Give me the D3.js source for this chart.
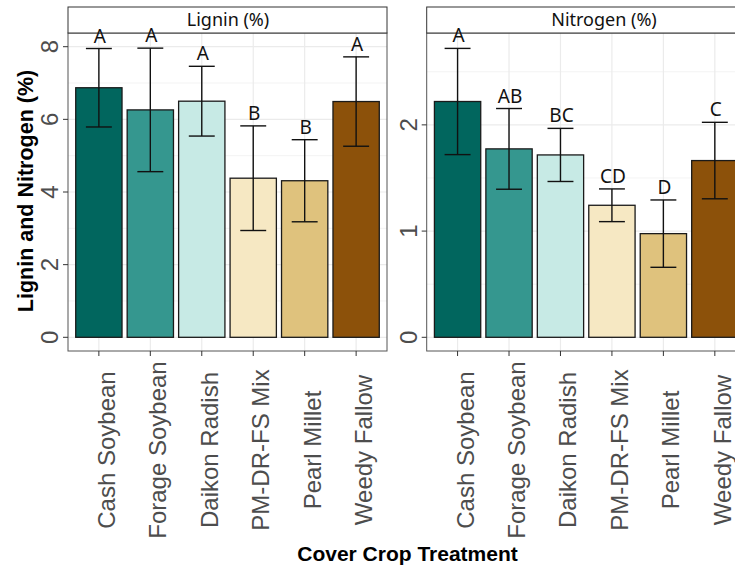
<!DOCTYPE html>
<html>
<head>
<meta charset="utf-8">
<script src="https://cdn.jsdelivr.net/npm/d3@7"></script>
<style>
  body { margin: 0; background: #fff; }
  svg { display: block; }
</style>
</head>
<body>
<svg id="chart" width="735" height="565"></svg>
<script>
// treatments, in plotting order
const treatments = ['Cash Soybean', 'Forage Soybean', 'Daikon Radish', 'PM-DR-FS Mix', 'Pearl Millet', 'Weedy Fallow']
const fills = ['#01665e', '#35978f', '#c7eae5', '#f6e8c3', '#dfc27d', '#8c510a']

// Lignin (%) : mean, error (sd) and letters
const ligninMean = [6.87, 6.26, 6.50, 4.38, 4.31, 6.49]
const ligninErr = [1.08, 1.70, 0.96, 1.44, 1.13, 1.23]
const ligninLetters = ['A', 'A', 'A', 'B', 'B', 'A']
const ligninTicks = [0, 2, 4, 6, 8]
const ligninMinor = [1, 3, 5, 7]

// Nitrogen (%)
const nitrogenMean = [2.22, 1.774, 1.717, 1.243, 0.976, 1.664]
const nitrogenErr = [0.50, 0.38, 0.25, 0.154, 0.317, 0.36]
const nitrogenLetters = ['A', 'AB', 'BC', 'CD', 'D', 'C']
const nitrogenTicks = [0, 1, 2]
const nitrogenMinor = [0.5, 1.5, 2.5]

const svg = d3.select('#chart')
const panelTop = 33
const panelBottom = 351
const grid = '#ebebeb'

/**
 * Draws one facet panel with its strip, bars, error bars and letters
 *
 * @param {object} p the panel settings
 */
function drawPanel (p) {
  const g = svg.append('g')
  const rows = treatments.map(function (t, i) {
    return { name: t, mean: p.mean[i], err: p.err[i], letter: p.letters[i], fill: fills[i] }
  })

  const x = d3.scaleBand()
    .domain(treatments)
    .range([p.left, p.right])
    .paddingInner(0.1)
    .paddingOuter(0.15)
  const y = d3.scaleLinear()
    .domain(p.domain)
    .range([panelBottom, panelTop])

  // grid
  g.selectAll('line.minor')
    .data(p.minor)
    .enter()
    .append('line')
    .attr('x1', p.left).attr('x2', p.right)
    .attr('y1', function (d) { return y(d) }).attr('y2', function (d) { return y(d) })
    .attr('stroke', grid).attr('stroke-width', 0.6)
  g.selectAll('line.major')
    .data(p.ticks)
    .enter()
    .append('line')
    .attr('x1', p.left).attr('x2', p.right)
    .attr('y1', function (d) { return y(d) }).attr('y2', function (d) { return y(d) })
    .attr('stroke', grid).attr('stroke-width', 1.2)
  g.selectAll('line.vgrid')
    .data(treatments)
    .enter()
    .append('line')
    .attr('x1', function (d) { return x(d) + x.bandwidth() / 2 })
    .attr('x2', function (d) { return x(d) + x.bandwidth() / 2 })
    .attr('y1', panelTop).attr('y2', panelBottom)
    .attr('stroke', grid).attr('stroke-width', 1.2)

  // bars
  g.selectAll('rect.bar')
    .data(rows)
    .enter()
    .append('rect')
    .attr('x', function (d) { return x(d.name) })
    .attr('width', x.bandwidth())
    .attr('y', function (d) { return y(d.mean) })
    .attr('height', function (d) { return y(0) - y(d.mean) })
    .attr('fill', function (d) { return d.fill })
    .attr('stroke', '#1a1a1a')
    .attr('stroke-width', 1.3)

  // error bars
  const cap = x.bandwidth() * 0.28
  const eb = g.selectAll('g.err')
    .data(rows)
    .enter()
    .append('g')
    .attr('transform', function (d) { return 'translate(' + (x(d.name) + x.bandwidth() / 2) + ',0)' })
    .attr('stroke', '#111')
    .attr('stroke-width', 1.4)
  eb.append('line')
    .attr('y1', function (d) { return y(d.mean - d.err) })
    .attr('y2', function (d) { return y(d.mean + d.err) })
  eb.append('line')
    .attr('x1', -cap).attr('x2', cap)
    .attr('y1', function (d) { return y(d.mean + d.err) })
    .attr('y2', function (d) { return y(d.mean + d.err) })
  eb.append('line')
    .attr('x1', -cap).attr('x2', cap)
    .attr('y1', function (d) { return y(d.mean - d.err) })
    .attr('y2', function (d) { return y(d.mean - d.err) })

  // panel border
  g.append('rect')
    .attr('x', p.left).attr('y', panelTop)
    .attr('width', p.right - p.left).attr('height', panelBottom - panelTop)
    .attr('fill', 'none')
    .attr('stroke', '#555')
    .attr('stroke-width', 1)

  // strip
  g.append('rect')
    .attr('x', p.left).attr('y', 7)
    .attr('width', p.right - p.left).attr('height', panelTop - 7)
    .attr('fill', '#fff')
    .attr('stroke', '#333')
    .attr('stroke-width', 1)
  g.append('text')
    .attr('x', p.stripX).attr('y', 26)
    .attr('text-anchor', 'middle')
    .style('font-family', '"Noto Sans", "Open Sans", sans-serif')
    .style('font-size', '18px')
    .attr('fill', '#111')
    .text(p.title)

  // letters
  g.selectAll('text.letter')
    .data(rows)
    .enter()
    .append('text')
    .attr('x', function (d) { return x(d.name) + x.bandwidth() / 2 + 1 })
    .attr('y', function (d) { return y(d.mean + d.err) - 6 })
    .attr('text-anchor', 'middle')
    .style('font-family', '"Noto Sans", "Open Sans", sans-serif')
    .style('font-size', '19px')
    .attr('fill', '#111')
    .text(function (d) { return d.letter })

  // y axis
  g.selectAll('line.ytick')
    .data(p.ticks)
    .enter()
    .append('line')
    .attr('x1', p.left - 5).attr('x2', p.left)
    .attr('y1', function (d) { return y(d) }).attr('y2', function (d) { return y(d) })
    .attr('stroke', '#333')
  g.selectAll('text.ylab')
    .data(p.ticks)
    .enter()
    .append('text')
    .attr('transform', function (d) { return 'translate(' + (p.left - 10) + ',' + y(d) + ') rotate(-90)' })
    .attr('text-anchor', 'middle')
    .style('font-family', '"Liberation Sans", Arial, sans-serif')
    .style('font-size', '24px')
    .attr('fill', '#4d4d4d')
    .text(function (d) { return d })

  // x axis
  g.selectAll('line.xtick')
    .data(treatments)
    .enter()
    .append('line')
    .attr('x1', function (d) { return x(d) + x.bandwidth() / 2 })
    .attr('x2', function (d) { return x(d) + x.bandwidth() / 2 })
    .attr('y1', panelBottom).attr('y2', panelBottom + 5)
    .attr('stroke', '#333')
  g.selectAll('text.xlab')
    .data(treatments)
    .enter()
    .append('text')
    .attr('transform', function (d) { return 'translate(' + (x(d) + x.bandwidth() / 2) + ',450) rotate(-90)' })
    .attr('text-anchor', 'middle')
    .attr('dy', 16)
    .style('font-family', '"Liberation Sans", Arial, sans-serif')
    .style('font-size', '24px')
    .attr('fill', '#4d4d4d')
    .text(function (d) { return d })
}

drawPanel({
  left: 68, right: 387, domain: [-0.377, 8.377],
  mean: ligninMean, err: ligninErr, letters: ligninLetters,
  ticks: ligninTicks, minor: ligninMinor,
  title: 'Lignin (%)', stripX: 228
})
drawPanel({
  left: 426.7, right: 745.7, domain: [-0.129, 2.865],
  mean: nitrogenMean, err: nitrogenErr, letters: nitrogenLetters,
  ticks: nitrogenTicks, minor: nitrogenMinor,
  title: 'Nitrogen (%)', stripX: 604
})

// axis titles
svg.append('text')
  .attr('transform', 'translate(33,191) rotate(-90)')
  .attr('text-anchor', 'middle')
  .style('font-family', '"Liberation Sans", Arial, sans-serif')
  .style('font-size', '21.5px')
  .style('font-weight', 'bold')
  .attr('fill', '#000')
  .text('Lignin and Nitrogen (%)')

svg.append('text')
  .attr('x', 407.5).attr('y', 561)
  .attr('text-anchor', 'middle')
  .style('font-family', '"Liberation Sans", Arial, sans-serif')
  .style('font-size', '21px')
  .style('font-weight', 'bold')
  .attr('fill', '#000')
  .text('Cover Crop Treatment')
</script>
</body>
</html>
